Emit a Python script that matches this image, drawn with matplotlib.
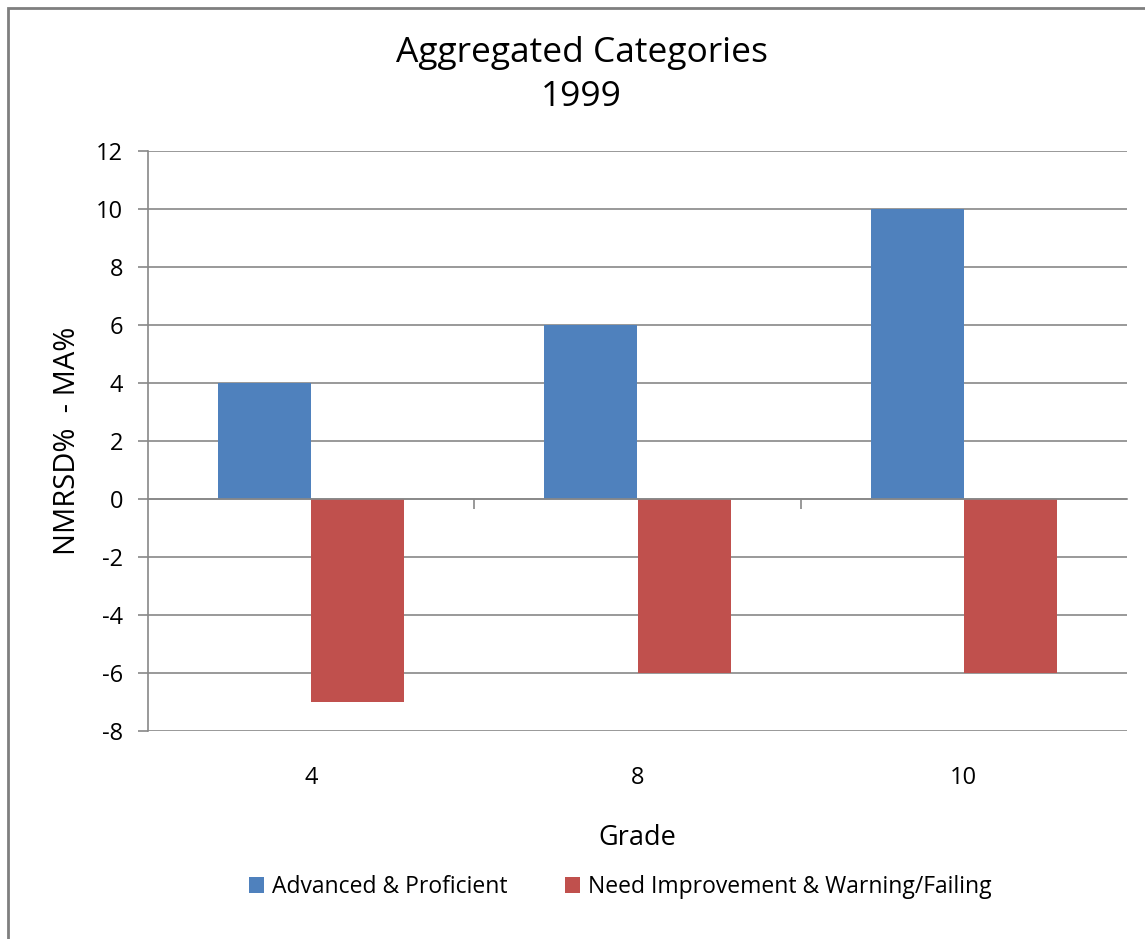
import matplotlib
matplotlib.use("Agg")
import matplotlib.pyplot as plt
import matplotlib.patches as patches
import numpy as np

plt.rcParams["font.family"] = ["Open Sans", "DejaVu Sans"]
plt.rcParams["axes.unicode_minus"] = False

grades = ["4", "8", "10"]
adv_prof = [4, 6, 10]
need_warn = [-7, -6, -6]
series_names = ["Advanced & Proficient", "Need Improvement & Warning/Failing"]
y_ticks = [-8, -6, -4, -2, 0, 2, 4, 6, 8, 10, 12]

blue = "#4F81BD"
red = "#C0504D"
grid_col = "#888888"

fig = plt.figure(figsize=(11.45, 9.39), dpi=100)
ax = fig.add_axes([148 / 1145, 1 - 731 / 939, (1127 - 148) / 1145, (731 - 151) / 939])

x = np.arange(len(grades))
w = 0.286
b1 = ax.bar(x - w / 2, adv_prof, w, color=blue, label=series_names[0], zorder=3)
b2 = ax.bar(x + w / 2, need_warn, w, color=red, label=series_names[1], zorder=3)

ax.set_xlim(-0.5, len(grades) - 0.5)
ax.set_ylim(-8, 12)
ax.set_yticks(y_ticks)
ax.yaxis.grid(True, color=grid_col, linewidth=1.2, zorder=0)
ax.tick_params(axis="y", length=7, width=1.2, color=grid_col, labelsize=17, pad=11)

for s in ["top", "right"]:
    ax.spines[s].set_visible(False)
ax.spines["left"].set_color(grid_col)
ax.spines["left"].set_linewidth(1.2)
ax.spines["bottom"].set_position(("data", 0))
ax.spines["bottom"].set_color(grid_col)
ax.spines["bottom"].set_linewidth(1.2)
ax.spines["bottom"].set_zorder(4)

# category boundary ticks on the zero line
ax.set_xticks([])
ax.set_xticks(x[:-1] + 0.5, minor=True)
ax.tick_params(axis="x", which="minor", length=7, width=1.2, color=grid_col, direction="out")

# category labels at the bottom of the plot area
sec = ax.secondary_xaxis("bottom")
sec.set_xticks(x, grades)
sec.tick_params(length=0, labelsize=17, pad=25)
sec.spines["bottom"].set_visible(False)

ax.set_ylabel("NMRSD%  - MA%", fontsize=21, labelpad=10)

fig.text(0.508, 1 - 75 / 939, "Aggregated Categories\n1999", ha="center", va="center",
         fontsize=25.5, linespacing=1.4)
fig.text(0.557, 1 - 838 / 939, "Grade", ha="center", va="center", fontsize=19.5)

fig.legend(handles=[b1, b2], loc="center", bbox_to_anchor=(0.542, 1 - 887 / 939),
           ncol=2, frameon=False, fontsize=16.5, handlelength=0.65, handleheight=0.65,
           columnspacing=2.5, handletextpad=0.35)

# chart area border (left and top edges visible)
fig.patches.append(patches.Rectangle((8 / 1145, -0.1), 1.2, 1.1 - 8 / 939,
                                     transform=fig.transFigure, fill=False,
                                     edgecolor="#7f7f7f", linewidth=2))

fig.savefig("out.png", dpi=100)
